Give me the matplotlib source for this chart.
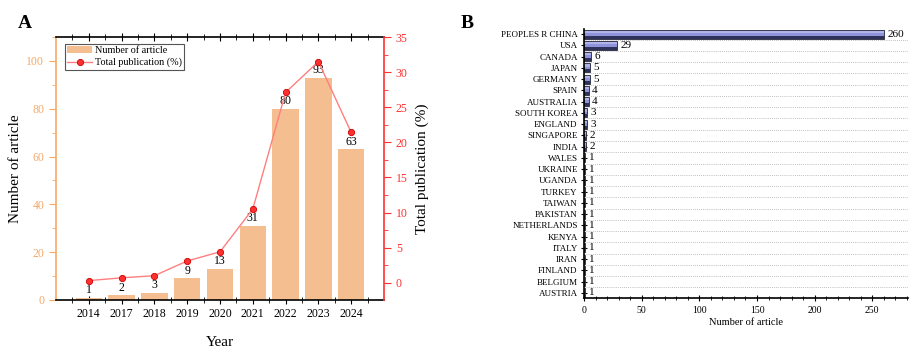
import numpy as np
import matplotlib
matplotlib.use("Agg")
import matplotlib.pyplot as plt
from matplotlib.ticker import MultipleLocator, FixedLocator

plt.rcParams['font.family'] = ['Liberation Serif', 'DejaVu Serif']

# panel A data
years = ['2014', '2017', '2018', '2019', '2020', '2021', '2022', '2023', '2024']
articles = [1, 2, 3, 9, 13, 31, 80, 93, 63]
percent = [0.3, 0.7, 1.0, 3.1, 4.4, 10.5, 27.1, 31.5, 21.4]

# panel B data
countries = ['PEOPLES R CHINA', 'USA', 'CANADA', 'JAPAN', 'GERMANY', 'SPAIN',
             'AUSTRALIA', 'SOUTH KOREA', 'ENGLAND', 'SINGAPORE', 'INDIA', 'WALES',
             'UKRAINE', 'UGANDA', 'TURKEY', 'TAIWAN', 'PAKISTAN', 'NETHERLANDS',
             'KENYA', 'ITALY', 'IRAN', 'FINLAND', 'BELGIUM', 'AUSTRIA']
country_counts = [260, 29, 6, 5, 5, 4, 4, 3, 3, 2, 2, 1, 1, 1, 1, 1, 1, 1,
                  1, 1, 1, 1, 1, 1]

bar_col = '#f5be90'
orange = '#f7a868'
red = '#ff3030'

fig = plt.figure(figsize=(9.09, 3.5), dpi=100)

# ---------------- A ----------------
ax = fig.add_axes([56 / 909, 1 - 300 / 350, (384 - 56) / 909, (300 - 37) / 350])
x = np.arange(len(years))
bars = ax.bar(x, articles, width=0.8, color=bar_col, label='Number of article', zorder=2)
for xi, v in zip(x, articles):
    ax.text(xi, v + 0.6, str(v), ha='center', va='bottom', fontsize=8.5, zorder=5)
ax.set_xlim(-1, 9)
ax.set_ylim(0, 110)
ax.set_xticks(x)
ax.set_xticklabels(years, fontsize=8.5)
ax.xaxis.set_minor_locator(FixedLocator(np.arange(-0.5, 9, 1)))
ax.yaxis.set_major_locator(MultipleLocator(20))
ax.yaxis.set_minor_locator(MultipleLocator(10))
ax.tick_params(axis='x', which='both', top=True, direction='inout', length=6, pad=3)
ax.tick_params(axis='x', which='minor', length=4)
ax.tick_params(axis='y', which='both', colors=orange, labelsize=8.5, length=5)
ax.tick_params(axis='y', which='minor', length=3)
ax.spines['left'].set_color(orange)
ax.spines['right'].set_visible(False)
ax.set_ylabel('Number of article', fontsize=11, labelpad=3)
ax.set_xlabel('Year', fontsize=11, labelpad=11)
for s in ['left', 'bottom', 'top']:
    ax.spines[s].set_linewidth(1.2)

ax2 = ax.twinx()
line, = ax2.plot(x, percent, color='#ff7f7f', lw=1, marker='o', ms=4.5,
                 mfc=red, mec='#cc0000', mew=0.6, label='Total publication (%)', zorder=4)
ax2.set_ylim(-2.46, 35)
ax2.yaxis.set_major_locator(MultipleLocator(5))
ax2.yaxis.set_minor_locator(MultipleLocator(2.5))
ax2.tick_params(axis='y', which='both', colors=red, labelsize=8.5, length=5)
ax2.tick_params(axis='y', which='minor', length=3)
ax2.spines['right'].set_color(red)
ax2.spines['right'].set_linewidth(1.2)
ax2.spines['left'].set_visible(False)
ax2.spines['top'].set_visible(False)
ax2.spines['bottom'].set_visible(False)
ax2.set_ylabel('Total publication (%)', fontsize=11, labelpad=6)

leg = ax.legend([bars, line], ['Number of article', 'Total publication (%)'],
                loc='upper left', bbox_to_anchor=(0.027, 0.975), fontsize=7.3,
                fancybox=False, edgecolor='#555555', framealpha=1,
                handlelength=2.4, borderpad=0.25, labelspacing=0.25,
                handletextpad=0.3, borderaxespad=0)
leg.get_frame().set_linewidth(0.8)

fig.text(18 / 909, 1 - 24 / 350, 'A', fontsize=14, fontweight='bold', va='center')

# ---------------- B ----------------
bx = fig.add_axes([584 / 909, 1 - 298 / 350, (909 - 584) / 909 - 0.001, (298 - 29) / 350])
y = np.arange(len(countries))
bx.barh(y, country_counts, height=0.8, color='#8e93db', edgecolor='#222233',
        linewidth=0.6, zorder=2)
# darker lower strip to mimic shaded bars
bx.barh(y + 0.27, country_counts, height=0.26, color='#2f3258', linewidth=0, zorder=2.5)
bx.barh(y - 0.2, country_counts, height=0.2, color='#c0c3f0', linewidth=0, zorder=2.5, alpha=0.7)
for yi, v in zip(y, country_counts):
    bx.text(v + 3, yi, str(v), va='center', ha='left', fontsize=8)
bx.set_ylim(len(countries) - 0.55, -0.45)
bx.set_xlim(0, 281)
bx.set_yticks(y)
bx.set_yticklabels(countries, fontsize=6.5)
bx.xaxis.set_major_locator(MultipleLocator(50))
bx.xaxis.set_minor_locator(MultipleLocator(10))
bx.yaxis.set_minor_locator(FixedLocator(np.arange(0.5, len(countries), 1)))
bx.grid(axis='y', which='minor', linestyle=(0, (1, 1.5)), color='#aaaaaa', lw=0.6, zorder=0)
bx.tick_params(axis='y', which='major', direction='inout', length=5, pad=2)
bx.tick_params(axis='y', which='minor', length=0)
bx.tick_params(axis='x', which='major', direction='inout', length=5, labelsize=7)
bx.tick_params(axis='x', which='minor', direction='inout', length=3)
bx.spines['top'].set_visible(False)
bx.spines['right'].set_visible(False)
bx.spines['left'].set_linewidth(1.2)
bx.spines['bottom'].set_linewidth(1.2)
bx.set_xlabel('Number of article', fontsize=7.5, labelpad=2)

fig.text(461 / 909, 1 - 24 / 350, 'B', fontsize=14, fontweight='bold', va='center')

fig.savefig('out.png', dpi=100)
